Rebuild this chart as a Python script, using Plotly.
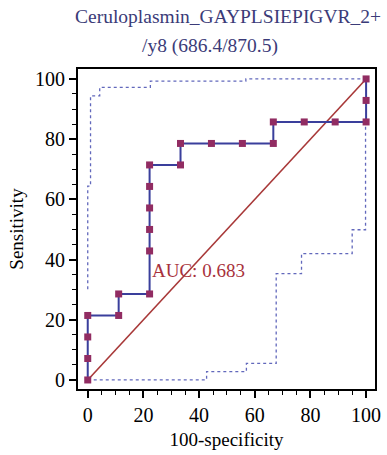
import plotly.graph_objects as go

# ROC curve points (100-specificity, sensitivity)
roc_x = [0, 0, 0, 0, 11.11, 11.11, 22.22, 22.22, 22.22, 22.22, 22.22, 22.22,
         33.33, 33.33, 44.44, 55.56, 66.67, 66.67, 77.78, 88.89, 100, 100, 100]
roc_y = [0, 7.14, 14.29, 21.43, 21.43, 28.57, 28.57, 42.86, 50.0, 57.14, 64.29, 71.43,
         71.43, 78.57, 78.57, 78.57, 78.57, 85.71, 85.71, 85.71, 85.71, 92.86, 100]

# Confidence bands
upper_x = [0, 0, 1, 1, 4.3, 4.3, 22.5, 22.5, 56.8, 56.8, 100]
upper_y = [30.1, 64.4, 64.4, 94.4, 94.4, 97.2, 97.2, 99.3, 99.3, 100, 100]
lower_x = [0, 42.7, 42.7, 57.0, 57.0, 67.7, 67.7, 76.8, 76.8, 95.0, 95.0, 99.8, 99.8]
lower_y = [0, 0, 2.8, 2.8, 5.5, 5.5, 35.3, 35.3, 42.0, 42.0, 49.9, 49.9, 85.7]

diag_x = [0, 100]
diag_y = [0, 100]

tick_vals = [0, 20, 40, 60, 80, 100]
auc_text = "AUC: 0.683"
title_lines = ["Ceruloplasmin_GAYPLSIEPIGVR_2+", "/y8 (686.4/870.5)"]

FONT = "Liberation Serif"
W, H = 387, 455
ML, MR, MT, MB = 78, 6, 69, 66

fig = go.Figure()
fig.add_trace(go.Scatter(x=upper_x, y=upper_y, mode="lines",
                         line=dict(color="#6268bc", width=1.3, dash="dot"), hoverinfo="skip"))
fig.add_trace(go.Scatter(x=lower_x, y=lower_y, mode="lines",
                         line=dict(color="#6268bc", width=1.3, dash="dot"), hoverinfo="skip"))
fig.add_trace(go.Scatter(x=diag_x, y=diag_y, mode="lines",
                         line=dict(color="#a83838", width=1.6)))
fig.add_trace(go.Scatter(x=roc_x, y=roc_y, mode="lines+markers",
                         line=dict(color="#3a3f9c", width=2),
                         marker=dict(symbol="square", size=7, color="#912c62")))

fig.add_annotation(x=22.5, y=36.5, text=auc_text, showarrow=False, xanchor="left",
                   yanchor="middle", font=dict(family=FONT, size=19, color="#a8323c"))

# title as two centred lines (positions in pixels converted to paper coords)
pw = W - ML - MR
ph = H - MT - MB
for line, cx, cy in [(title_lines[0], 231, 17), (title_lines[1], 213, 46)]:
    fig.add_annotation(x=(cx - ML) / pw, y=(H - MB - cy) / ph, xref="paper", yref="paper",
                       text=line, showarrow=False, xanchor="center", yanchor="middle",
                       font=dict(family=FONT, size=19.5, color="#3b3b78"))

axis_common = dict(
    showgrid=False, zeroline=False, showline=True, linecolor="black", linewidth=2,
    mirror=True, ticks="outside", ticklen=7, tickwidth=1.5, tickcolor="black",
    tickvals=tick_vals, tickfont=dict(family=FONT, size=20, color="black"),
    minor=dict(dtick=5, tick0=0, ticks="outside", ticklen=4, tickcolor="black", tickwidth=1.2),
)

fig.update_layout(
    width=W, height=H,
    margin=dict(l=ML, r=MR, t=MT, b=MB),
    paper_bgcolor="white", plot_bgcolor="white",
    showlegend=False,
    xaxis=dict(range=[-3.5, 103.2], title=dict(text="100-specificity",
               font=dict(family=FONT, size=19, color="black"), standoff=8), **axis_common),
    yaxis=dict(range=[-3.0, 103.3], title=dict(text="Sensitivity",
               font=dict(family=FONT, size=19, color="black"), standoff=6), **axis_common),
)

fig.write_html("out.html")
